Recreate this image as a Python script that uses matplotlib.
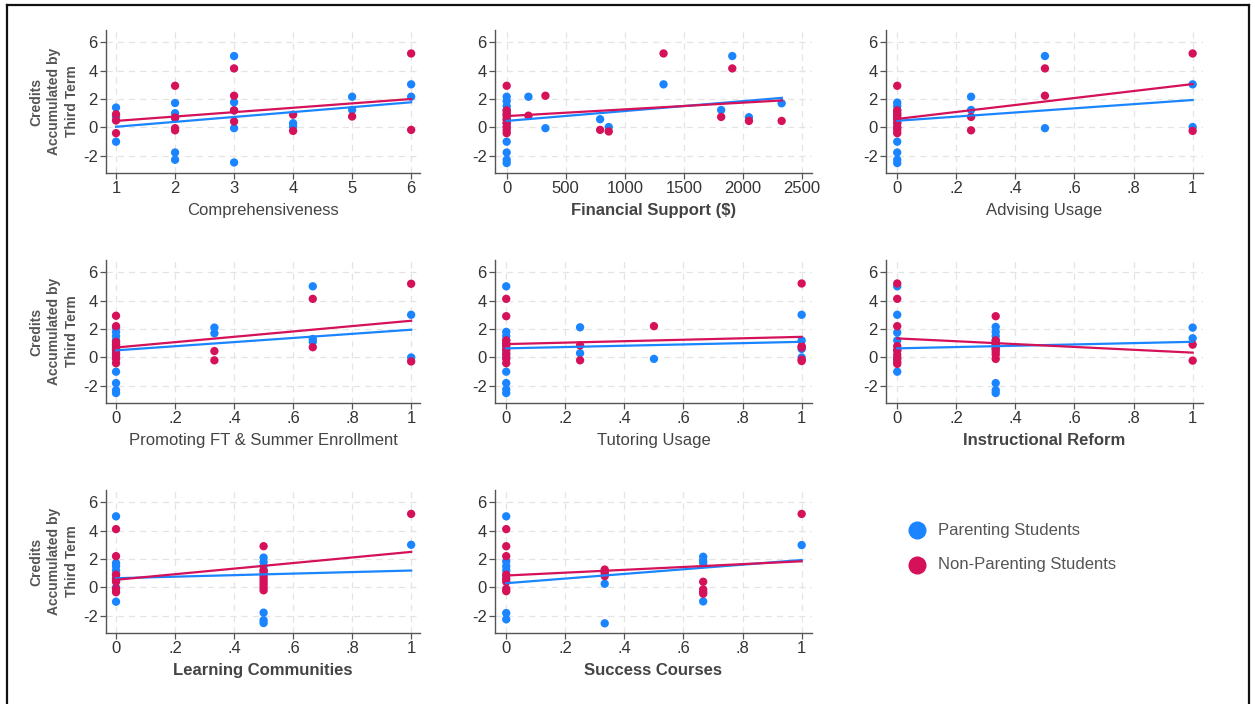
import matplotlib
matplotlib.use("Agg")
import matplotlib.pyplot as plt
from matplotlib.lines import Line2D

plt.rcParams['font.family'] = ['Liberation Sans', 'DejaVu Sans']
plt.rcParams['axes.unicode_minus'] = False

BLUE = "#1A85FF"
RED = "#D41159"

# ---------------- data ----------------
# Comprehensiveness
comp_x_par = [1, 1, 1, 2, 2, 2, 2, 2, 3, 3, 3, 3, 3, 4, 4, 5, 5, 6, 6]
comp_y_par = [1.4, 0.75, -1.0, 1.72, 1.0, 0.65, -1.76, -2.27, 5.02, 1.77, 1.2, -0.05, -2.46, 0.3, 0.06, 2.16, 1.23, 3.03, 2.16]
comp_x_non = [1, 1, 1, 2, 2, 2, 2, 3, 3, 3, 3, 4, 4, 5, 6, 6]
comp_y_non = [0.93, 0.49, -0.4, 2.93, 0.7, -0.05, -0.2, 4.15, 2.23, 1.2, 0.42, 0.9, -0.24, 0.77, 5.2, -0.17]
comp_fit_x = [1, 6]
comp_fit_par = [0.05, 1.77]
comp_fit_non = [0.46, 2.0]

# Financial Support ($)
fin_x_par = [0] * 12 + [184, 328, 791, 864, 1328, 1816, 1910, 2051, 2328]
fin_y_par = [2.16, 1.86, 1.5, 1.2, 0.9, 0.6, 0.3, 0.0, -1.0, -1.76, -2.27, -2.5,
             2.16, -0.05, 0.58, 0.03, 3.03, 1.23, 5.02, 0.72, 1.7]
fin_x_non = [0] * 9 + [184, 328, 791, 864, 1328, 1816, 1910, 2051, 2328]
fin_y_non = [2.93, 1.2, 1.0, 0.8, 0.55, 0.3, 0.05, -0.2, -0.4,
             0.83, 2.23, -0.17, -0.28, 5.2, 0.74, 4.15, 0.46, 0.46]
fin_fit_x = [0, 2330]
fin_fit_par = [0.46, 2.08]
fin_fit_non = [0.8, 1.9]

# Advising Usage
adv_x_par = [0] * 11 + [0.25, 0.25, 0.5, 0.5, 1, 1]
adv_y_par = [1.75, 1.5, 1.2, 0.9, 0.6, 0.3, 0.0, -1.0, -1.76, -2.27, -2.5,
             2.16, 1.23, 5.02, -0.05, 3.03, 0.03]
adv_x_non = [0] * 9 + [0.25, 0.25, 0.5, 0.5, 1, 1]
adv_y_non = [2.93, 1.2, 1.0, 0.8, 0.6, 0.3, 0.0, -0.2, -0.4,
             0.74, -0.2, 4.15, 2.23, 5.2, -0.24]
adv_fit_x = [0, 1]
adv_fit_par = [0.47, 1.93]
adv_fit_non = [0.6, 3.05]

# Promoting FT & Summer Enrollment
prom_x_par = [0] * 12 + [1/3, 1/3, 2/3, 2/3, 2/3, 1, 1]
prom_y_par = [2.1, 1.8, 1.5, 1.2, 0.9, 0.6, 0.3, 0.0, -1.0, -1.8, -2.3, -2.5,
              2.1, 1.7, 5.0, 1.3, 1.1, 3.0, 0.0]
prom_x_non = [0] * 9 + [1/3, 1/3, 2/3, 2/3, 1, 1]
prom_y_non = [2.93, 2.2, 1.1, 0.9, 0.7, 0.5, 0.2, -0.1, -0.4,
              0.45, -0.2, 4.12, 0.72, 5.18, -0.28]
prom_fit_x = [0, 1]
prom_fit_par = [0.5, 1.95]
prom_fit_non = [0.7, 2.58]

# Tutoring Usage
tut_x_par = [0] * 12 + [0.25, 0.25, 0.5, 1, 1, 1, 1]
tut_y_par = [5.0, 1.8, 1.5, 1.2, 0.9, 0.6, 0.3, 0.0, -1.0, -1.8, -2.25, -2.5,
             2.12, 0.3, -0.1, 3.0, 1.2, 0.6, 0.0]
tut_x_non = [0] * 9 + [0.25, 0.25, 0.5, 1, 1, 1, 1, 1]
tut_y_non = [4.12, 2.9, 1.2, 1.0, 0.8, 0.5, 0.2, -0.1, -0.4,
             0.85, -0.2, 2.2, 5.2, 0.8, 0.7, -0.15, -0.25]
tut_fit_x = [0, 1]
tut_fit_par = [0.64, 1.1]
tut_fit_non = [0.94, 1.45]

# Instructional Reform
ins_x_par = [0] * 7 + [1/3] * 9 + [1, 1]
ins_y_par = [5.0, 3.0, 1.75, 1.2, 0.5, 0.0, -1.0,
             2.15, 1.8, 1.5, 1.2, 0.9, 0.6, -1.8, -2.3, -2.5,
             2.1, 1.35]
ins_x_non = [0] * 9 + [1/3] * 8 + [1, 1]
ins_y_non = [5.2, 4.12, 2.2, 0.8, 0.5, 0.2, -0.1, -0.3, -0.45,
             2.9, 1.2, 1.0, 0.8, 0.6, 0.4, 0.2, -0.1,
             0.9, -0.22]
ins_fit_x = [0, 1]
ins_fit_par = [0.64, 1.1]
ins_fit_non = [1.34, 0.34]

# Learning Communities
lrn_x_par = [0] * 8 + [0.5] * 7 + [1]
lrn_y_par = [5.0, 1.72, 1.5, 1.2, 0.9, 0.6, 0.0, -1.0,
             2.1, 1.8, 1.5, 1.2, -1.77, -2.3, -2.5,
             3.0]
lrn_x_non = [0] * 7 + [0.5] * 9 + [1]
lrn_y_non = [4.1, 2.2, 0.9, 0.6, 0.4, -0.1, -0.33,
             2.9, 1.2, 1.0, 0.8, 0.6, 0.4, 0.2, 0.0, -0.2,
             5.17]
lrn_fit_x = [0, 1]
lrn_fit_par = [0.65, 1.19]
lrn_fit_non = [0.54, 2.5]

# Success Courses
suc_x_par = [0] * 7 + [1/3] * 3 + [2/3] * 4 + [1]
suc_y_par = [5.0, 1.84, 1.5, 1.2, 0.8, -1.8, -2.24,
             1.1, 0.26, -2.52,
             2.16, 1.9, 1.72, -0.98,
             2.98]
suc_x_non = [0] * 8 + [1/3] * 3 + [2/3] * 4 + [1]
suc_y_non = [4.1, 2.9, 2.2, 0.9, 0.6, 0.4, -0.1, -0.26,
             1.26, 1.0, 0.8,
             0.4, -0.14, -0.3, -0.44,
             5.17]
suc_fit_x = [0, 1]
suc_fit_par = [0.3, 1.93]
suc_fit_non = [0.84, 1.84]

x_labels = ["Comprehensiveness", "Financial Support ($)", "Advising Usage",
            "Promoting FT & Summer Enrollment", "Tutoring Usage", "Instructional Reform",
            "Learning Communities", "Success Courses"]
x_label_bold = [False, True, False, False, False, True, True, True]
y_ticks = [-2, 0, 2, 4, 6]
comp_ticks = [1, 2, 3, 4, 5, 6]
fin_ticks = [0, 500, 1000, 1500, 2000, 2500]
frac_ticks = [0, 0.2, 0.4, 0.6, 0.8, 1]
frac_ticklabels = ["0", ".2", ".4", ".6", ".8", "1"]
y_title = "Credits\nAccumulated by\nThird Term"
legend_labels = ["Parenting Students", "Non-Parenting Students"]

# ---------------- layout ----------------
W, H = 1255, 704
fig = plt.figure(figsize=(W / 100, H / 100), dpi=100)
fig.patch.set_facecolor("white")

# figure frame (left, top, right)
frame_kw = dict(transform=fig.transFigure, color="#111111", lw=1.6)
fig.add_artist(Line2D([7 / W, 7 / W], [0, 1 - 5 / H], **frame_kw))
fig.add_artist(Line2D([7 / W, 1249 / W], [1 - 5 / H, 1 - 5 / H], **frame_kw))
fig.add_artist(Line2D([1249 / W, 1249 / W], [0, 1 - 5 / H], **frame_kw))

cols = [(106, 420), (495, 812), (886, 1203)]
rows = [(30, 173), (260, 403), (490, 633)]


def make_ax(r, c):
    l, rr = cols[c]
    t, b = rows[r]
    return fig.add_axes([l / W, 1 - b / H, (rr - l) / W, (b - t) / H])


panels = [
    (comp_x_par, comp_y_par, comp_x_non, comp_y_non, comp_fit_x, comp_fit_par, comp_fit_non,
     (0.83, 6.15), comp_ticks, [str(t) for t in comp_ticks]),
    (fin_x_par, fin_y_par, fin_x_non, fin_y_non, fin_fit_x, fin_fit_par, fin_fit_non,
     (-99, 2585), fin_ticks, [str(t) for t in fin_ticks]),
    (adv_x_par, adv_y_par, adv_x_non, adv_y_non, adv_fit_x, adv_fit_par, adv_fit_non,
     (-0.038, 1.035), frac_ticks, frac_ticklabels),
    (prom_x_par, prom_y_par, prom_x_non, prom_y_non, prom_fit_x, prom_fit_par, prom_fit_non,
     (-0.034, 1.03), frac_ticks, frac_ticklabels),
    (tut_x_par, tut_y_par, tut_x_non, tut_y_non, tut_fit_x, tut_fit_par, tut_fit_non,
     (-0.038, 1.035), frac_ticks, frac_ticklabels),
    (ins_x_par, ins_y_par, ins_x_non, ins_y_non, ins_fit_x, ins_fit_par, ins_fit_non,
     (-0.038, 1.035), frac_ticks, frac_ticklabels),
    (lrn_x_par, lrn_y_par, lrn_x_non, lrn_y_non, lrn_fit_x, lrn_fit_par, lrn_fit_non,
     (-0.034, 1.03), frac_ticks, frac_ticklabels),
    (suc_x_par, suc_y_par, suc_x_non, suc_y_non, suc_fit_x, suc_fit_par, suc_fit_non,
     (-0.038, 1.035), frac_ticks, frac_ticklabels),
]

for i, (xp, yp, xn, yn, fx, fp, fn, xlim, xt, xtl) in enumerate(panels):
    r, c = divmod(i, 3)
    ax = make_ax(r, c)
    ax.set_xlim(*xlim)
    ax.set_ylim(-3.2, 6.85)
    ax.set_xticks(xt)
    ax.set_xticklabels(xtl)
    ax.set_yticks(y_ticks)
    ax.grid(True, color="#e4e4e4", lw=0.9, ls=(0, (5, 4)))
    ax.set_axisbelow(True)
    for s in ["top", "right"]:
        ax.spines[s].set_visible(False)
    for s in ["left", "bottom"]:
        ax.spines[s].set_color("#555555")
        ax.spines[s].set_linewidth(1.0)
    ax.tick_params(axis="both", direction="out", length=4, width=0.9, color="#555555",
                   labelcolor="#333333", labelsize=12, pad=2)
    ax.scatter(xp, yp, s=36, color=BLUE, edgecolors="none", zorder=3)
    ax.scatter(xn, yn, s=36, color=RED, edgecolors="none", zorder=4)
    ax.plot(fx, fp, color=BLUE, lw=1.6, zorder=5)
    ax.plot(fx, fn, color=RED, lw=1.6, zorder=6)
    ax.set_xlabel(x_labels[i], fontsize=12, color="#444444",
                  fontweight="bold" if x_label_bold[i] else "normal", labelpad=5)
    if c == 0:
        ax.set_ylabel(y_title, fontsize=10, color="#555555", fontweight="bold",
                      linespacing=1.35, labelpad=3)

# legend
for j, (lab, colr) in enumerate(zip(legend_labels, [BLUE, RED])):
    ypix = 530 + j * 35
    fig.add_artist(Line2D([917 / W], [1 - ypix / H], marker="o", markersize=13,
                          markerfacecolor=colr, markeredgecolor="none", linestyle="none",
                          transform=fig.transFigure))
    fig.text(938 / W, 1 - ypix / H, lab, fontsize=12, color="#555555", va="center", ha="left")

fig.savefig("out.png", dpi=100, facecolor="white")
